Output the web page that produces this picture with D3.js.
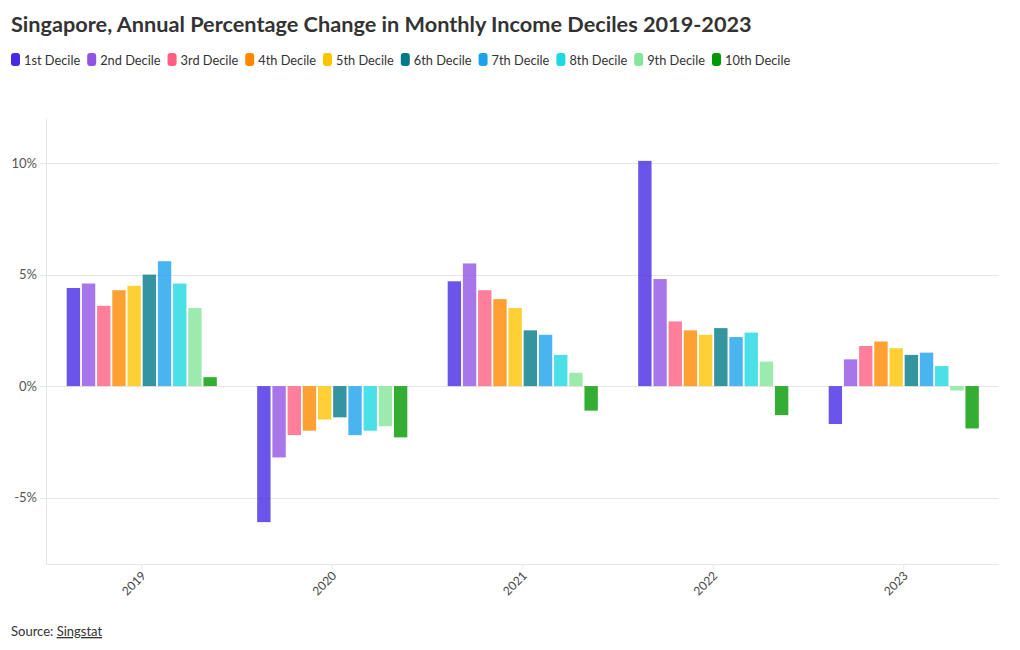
<!DOCTYPE html>
<html><head><meta charset="utf-8">
<script src="https://cdn.jsdelivr.net/npm/d3@7"></script>
<style>
body{margin:0;background:#fff;font-family:"Source Sans Pro",Lato,"Open Sans",sans-serif;}
svg text{font-family:"Source Sans Pro",Lato,"Open Sans",sans-serif;}
</style></head>
<body>
<svg id="c" width="1020" height="650"></svg>
<script>
const years = ["2019","2020","2021","2022","2023"];
const deciles = ["1st Decile","2nd Decile","3rd Decile","4th Decile","5th Decile","6th Decile","7th Decile","8th Decile","9th Decile","10th Decile"];
const colors = ["#4529e5","#9154e2","#ff5f81","#ff8800","#ffc400","#017988","#1da1ec","#1ed8e2","#85e59a","#009a00"];
const v2019 = [4.4,4.6,3.6,4.3,4.5,5.0,5.6,4.6,3.5,0.4];
const v2020 = [-6.1,-3.2,-2.2,-2.0,-1.5,-1.4,-2.2,-2.0,-1.8,-2.3];
const v2021 = [4.7,5.5,4.3,3.9,3.5,2.5,2.3,1.4,0.6,-1.1];
const v2022 = [10.1,4.8,2.9,2.5,2.3,2.6,2.2,2.4,1.1,-1.3];
const v2023 = [-1.7,1.2,1.8,2.0,1.7,1.4,1.5,0.9,-0.2,-1.9];
const yTicks = [-5,0,5,10];
const values = [v2019,v2020,v2021,v2022,v2023];

const svg = d3.select("#c");
const L=46.5, R=999, T=118.5, B=564.5;
const x0 = d3.scaleBand().domain(years).range([L,R]).padding(0);
const bw = x0.bandwidth();
const x1 = d3.scaleBand().domain(deciles).range([bw*0.106, bw*0.894]).paddingInner(0.12).paddingOuter(0);
const y = d3.scaleLinear().domain([-8,12]).range([B,T]);

// title
svg.append("text").attr("x",11).attr("y",32).attr("font-size",21.7).attr("font-weight",700).attr("fill","#333")
  .text("Singapore, Annual Percentage Change in Monthly Income Deciles 2019-2023");

// legend
let lx = 11;
deciles.forEach((d,i)=>{
  const g = svg.append("g").attr("transform",`translate(${lx},0)`);
  g.append("rect").attr("x",0).attr("y",53).attr("width",9).attr("height",13).attr("rx",3).attr("fill",colors[i]);
  const t = g.append("text").attr("x",13).attr("y",64.5).attr("font-size",12.8).attr("fill","#333").text(d);
  lx += 13 + t.node().getComputedTextLength() + 7;
});

// grid
svg.append("g").selectAll("line").data(yTicks).join("line")
  .attr("x1",40).attr("x2",R).attr("y1",d=>Math.round(y(d))+0.5).attr("y2",d=>Math.round(y(d))+0.5)
  .attr("stroke","#e6e6e6");
svg.append("line").attr("x1",L).attr("x2",L).attr("y1",T).attr("y2",B).attr("stroke","#e6e6e6");
svg.append("line").attr("x1",L).attr("x2",R).attr("y1",B).attr("y2",B).attr("stroke","#e6e6e6");

// y labels
svg.append("g").selectAll("text").data(yTicks).join("text")
  .attr("x",37).attr("y",d=>y(d)+4.5).attr("text-anchor","end").attr("font-size",13).attr("fill","#555")
  .text(d=>d+"%");

// bars
const groups = svg.append("g").selectAll("g").data(years).join("g")
  .attr("transform",d=>`translate(${x0(d)},0)`);
groups.selectAll("rect").data((d,i)=>values[i].map((v,j)=>({v,j}))).join("rect")
  .attr("x",d=>x1(deciles[d.j])).attr("width",x1.bandwidth())
  .attr("y",d=>y(Math.max(0,d.v))).attr("height",d=>Math.abs(y(d.v)-y(0)))
  .attr("fill",d=>colors[d.j]).attr("fill-opacity",0.8);

// x ticks & labels
svg.append("g").selectAll("line").data(years).join("line")
  .attr("x1",d=>x0(d)+bw/2).attr("x2",d=>x0(d)+bw/2).attr("y1",B).attr("y2",B+5).attr("stroke","#e6e6e6");
svg.append("g").selectAll("text").data(years).join("text")
  .attr("transform",d=>`translate(${x0(d)+bw/2+5},${B+12}) rotate(-45)`)
  .attr("text-anchor","end").attr("font-size",12).attr("fill","#444").text(d=>d);

// source
const s = svg.append("text").attr("x",11).attr("y",636).attr("font-size",13).attr("fill","#333");
s.append("tspan").text("Source: ");
s.append("tspan").attr("text-decoration","underline").text("Singstat");
</script>
</body></html>
